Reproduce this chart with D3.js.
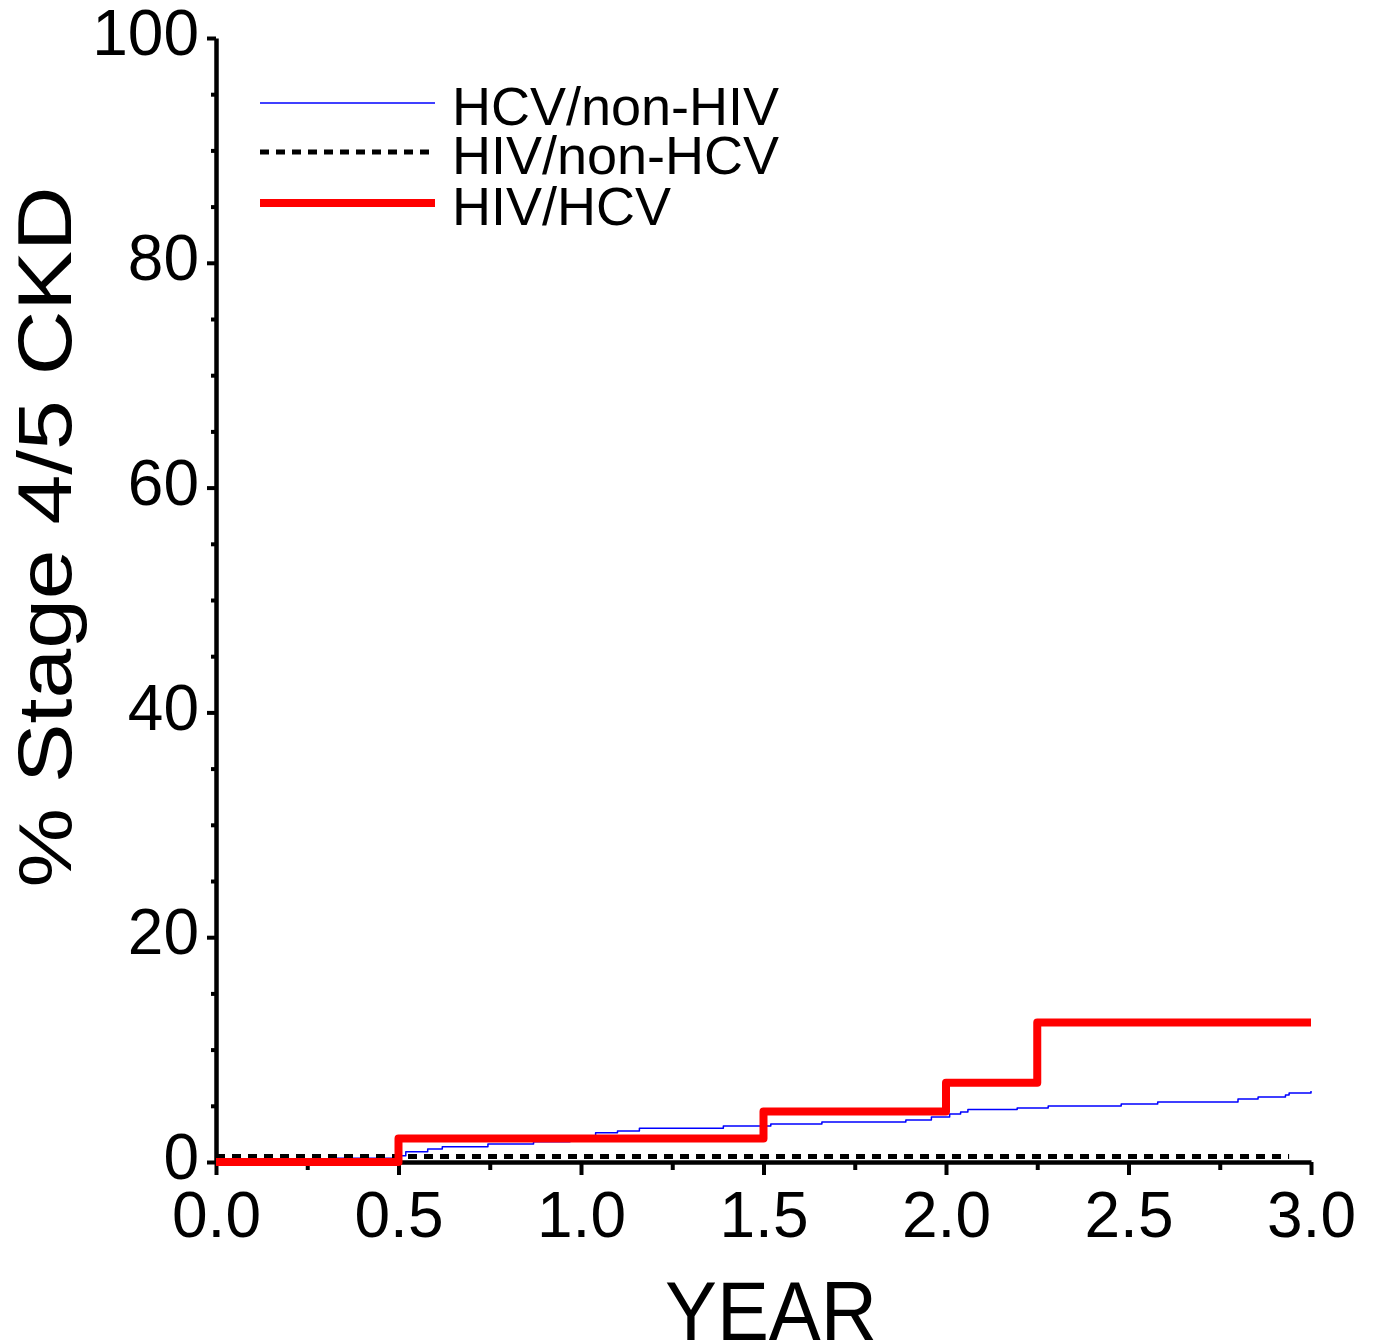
<!DOCTYPE html>
<html>
<head>
<meta charset="utf-8">
<script src="https://cdn.jsdelivr.net/npm/d3@7.9.0/dist/d3.min.js"></script>
<style>
  html, body { margin: 0; padding: 0; background: #fff; }
  svg { display: block; font-family: "Liberation Sans", Arial, sans-serif; }
</style>
</head>
<body>
<svg id="chart" width="1376" height="1342"></svg>
<script>
/* ──── data ──── */
// HCV/non-HIV: [year, % stage 4/5 CKD]
const hcvNonHiv = [
  [0, 0], [0.33, 0.33], [0.49, 0.56], [0.52, 0.92], [0.58, 1.16], [0.62, 1.36],
  [0.745, 1.6], [0.87, 1.8], [0.97, 2.2], [1.04, 2.6], [1.1, 2.76], [1.16, 3.0],
  [1.39, 3.2], [1.52, 3.38], [1.66, 3.56], [1.89, 3.74], [1.96, 4.0], [2.01, 4.27],
  [2.04, 4.45], [2.06, 4.67], [2.195, 4.8], [2.28, 4.98], [2.48, 5.16], [2.58, 5.34],
  [2.8, 5.6], [2.855, 5.78], [2.93, 5.96], [2.94, 6.14], [3.0, 6.32]
];
// HIV/non-HCV
const hivNonHcv = [[0, 0.5], [2.94, 0.5]];
// HIV/HCV
const hivHcv = [[0, 0], [0.5, 2.1], [1.5, 4.5], [2.0, 7.05], [2.25, 12.4], [3.0, 12.4]];

const seriesNames = ['HCV/non-HIV', 'HIV/non-HCV', 'HIV/HCV'];
const xMajorTicks = [0, 0.5, 1.0, 1.5, 2.0, 2.5, 3.0];
const xMinorTicks = [0.25, 0.75, 1.25, 1.75, 2.25, 2.75];
const yMajorTicks = [0, 20, 40, 60, 80, 100];
const yMinorTicks = d3.range(5, 100, 5).filter(v => v % 20 !== 0);

/* ──── styles per series ──── */
const styles = [
  { color: '#0000ff', width: 1.5, dash: null },
  { color: '#000000', width: 5,   dash: '9,7' },
  { color: '#ff0000', width: 8,   dash: null }
];
const seriesData = [hcvNonHiv, hivNonHcv, hivHcv];

/* ──── scales ──── */
const svg = d3.select('#chart');
svg.append('rect').attr('width', 1376).attr('height', 1342).attr('fill', '#fff');

const x = d3.scaleLinear().domain([0, 3]).range([216, 1311]);
const y = d3.scaleLinear().domain([0, 100]).range([1162, 38]);

/* ──── axes ──── */
const yAxis = svg.append('g')
  .attr('transform', `translate(${x(0)},0)`)
  .call(d3.axisLeft(y).tickValues(yMajorTicks).tickSize(9).tickSizeOuter(0)
          .tickPadding(8).tickFormat(d3.format('d')));

svg.append('g')
  .attr('transform', `translate(${x(0)},0)`)
  .call(d3.axisLeft(y).tickValues(yMinorTicks).tickSize(5).tickSizeOuter(0).tickFormat(''))
  .call(g => g.select('.domain').remove());

const xAxis = svg.append('g')
  .attr('transform', `translate(0,${y(0)})`)
  .call(d3.axisBottom(x).tickValues(xMajorTicks).tickSize(13).tickSizeOuter(0)
          .tickPadding(17).tickFormat(d3.format('.1f')));

svg.append('g')
  .attr('transform', `translate(0,${y(0)})`)
  .call(d3.axisBottom(x).tickValues(xMinorTicks).tickSize(8).tickSizeOuter(0).tickFormat(''))
  .call(g => g.select('.domain').remove());

svg.selectAll('.domain').attr('stroke', '#000').attr('stroke-width', 4.5);
svg.selectAll('.tick line').attr('stroke', '#000').attr('stroke-width', 4);
svg.selectAll('.tick text').attr('fill', '#000').attr('font-size', 64)
   .attr('font-family', '"Liberation Sans", Arial, sans-serif');
yAxis.selectAll('.tick text').attr('dy', '0.26em');

/* ──── lines ──── */
const line = d3.line()
  .x(d => x(d[0]))
  .y(d => y(d[1]))
  .curve(d3.curveStepAfter);

seriesData.forEach((data, i) => {
  svg.append('path')
    .datum(data)
    .attr('d', line)
    .attr('fill', 'none')
    .attr('stroke', styles[i].color)
    .attr('stroke-width', styles[i].width)
    .attr('stroke-dasharray', styles[i].dash)
    .attr('stroke-linejoin', 'round');
});

/* ──── legend ──── */
const legend = svg.append('g');
const legendY = [103, 152, 203];
seriesNames.forEach((name, i) => {
  legend.append('line')
    .attr('x1', 260).attr('x2', 435)
    .attr('y1', legendY[i]).attr('y2', legendY[i])
    .attr('stroke', styles[i].color)
    .attr('stroke-width', styles[i].width === 1.5 ? 1.5 : styles[i].width)
    .attr('stroke-dasharray', styles[i].dash);
  legend.append('text')
    .attr('x', 452).attr('y', legendY[i] + 22)
    .attr('font-size', 54)
    .attr('fill', '#000')
    .text(name);
});

/* ──── axis titles ──── */
svg.append('text')
  .attr('transform', 'translate(71,537) rotate(-90)')
  .attr('text-anchor', 'middle')
  .attr('font-size', 76)
  .attr('textLength', 701)
  .attr('lengthAdjust', 'spacingAndGlyphs')
  .text('% Stage 4/5 CKD');

svg.append('text')
  .attr('x', 771).attr('y', 1340)
  .attr('text-anchor', 'middle')
  .attr('font-size', 84)
  .attr('textLength', 212)
  .attr('lengthAdjust', 'spacingAndGlyphs')
  .text('YEAR');
</script>
</body>
</html>
